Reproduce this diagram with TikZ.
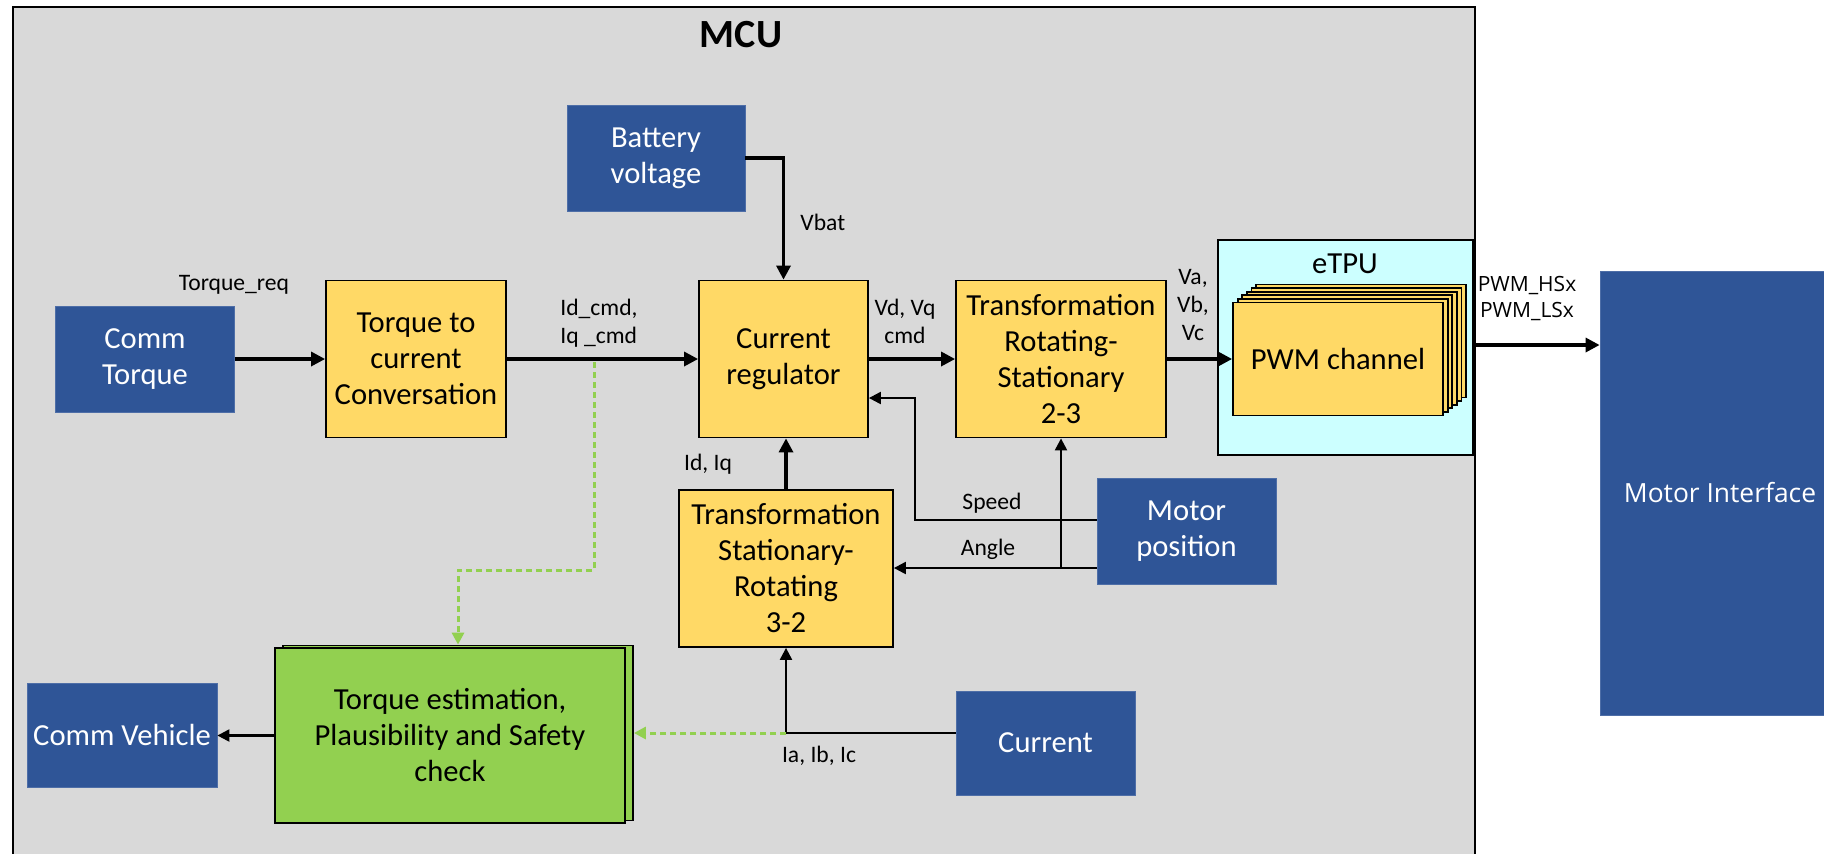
\documentclass[tikz,border=0pt]{standalone}
\usepackage{fontspec}
\setmainfont{Carlito}
\newfontfamily\osans{Open Sans}
\usetikzlibrary{arrows.meta,calc}
\definecolor{mblue}{HTML}{2F5597}
\definecolor{myellow}{HTML}{FFD966}
\definecolor{mgreen}{HTML}{92D050}
\definecolor{mgray}{HTML}{D9D9D9}
\definecolor{mcyan}{HTML}{CCFFFF}
\begin{document}
\begin{tikzpicture}[x=0.5pt,y=-0.5pt,
 bluebox/.style={rectangle, fill=mblue, draw=mblue!85!white, line width=0.4pt, text=white, font=\fontsize{15.3}{18}\selectfont, align=center, inner sep=0pt},
 yelbox/.style={rectangle, fill=myellow, draw=black, line width=0.9pt, font=\fontsize{15.3}{18}\selectfont, align=center, inner sep=0pt},
 lbl/.style={font=\fontsize{11.8}{14}\selectfont, inner sep=0pt, align=center},
 flow/.style={draw=black, line width=1.6pt, -{Triangle[length=7pt,width=7pt]}},
 thinflow/.style={draw=black, line width=1.1pt, -{Triangle[length=6pt,width=6pt]}},
 gdash/.style={draw=mgreen, line width=1.5pt, dash pattern=on 3pt off 2pt, -{Triangle[length=6pt,width=6pt]}},
]
\useasboundingbox (0,0) rectangle (1824,853);
\fill[white] (0,0) rectangle (1824,853);
% containers
\node[draw=black, fill=mgray, line width=1pt, minimum width=731pt, minimum height=440pt, anchor=north west, inner sep=0pt] (mcu) at (12,6) {};
\node[font=\fontsize{20}{24}\selectfont\bfseries, inner sep=0pt] (mcutitle) at (741,35) {MCU};
\node[draw=black, fill=mcyan, line width=0.8pt, minimum width=127.5pt, minimum height=107.5pt, inner sep=0pt] (etpu) at (1345.5,347.5) {};
\node[font=\fontsize{15.3}{18}\selectfont, inner sep=0pt] (etpul) at (1345,264) {eTPU};
% PWM stack
\foreach \i in {5,4,...,1}
  \node[yelbox, minimum width=105pt, minimum height=56.5pt] (pwm\i) at ({1338+4.6*\i},{359-3.6*\i}) {};
\node[yelbox, minimum width=105pt, minimum height=56.5pt] (pwm) at (1338,359) {PWM channel};
% blocks
\node[bluebox, minimum width=89pt, minimum height=53pt] (batt) at (656,158) {Battery\\voltage};
\node[bluebox, minimum width=89.5pt, minimum height=53pt] (commT) at (145,359) {Comm\\Torque};
\node[yelbox, minimum width=90pt, minimum height=78.5pt] (t2c) at (416,359) {Torque to\\current\\Conversation};
\node[yelbox, minimum width=84.5pt, minimum height=78.5pt] (creg) at (783.5,359) {Current\\regulator};
\node[yelbox, minimum width=105pt, minimum height=78.5pt] (tr23) at (1061,359) {Transformation\\Rotating-\\Stationary\\2-3};
\node[yelbox, minimum width=107pt, minimum height=78.5pt] (tr32) at (786,568.5) {Transformation\\Stationary-\\Rotating\\3-2};
\node[bluebox, minimum width=89.5pt, minimum height=53pt] (motpos) at (1186.5,531) {Motor\\position};
\node[bluebox, minimum width=89.5pt, minimum height=52pt] (current) at (1045.5,743) {Current};
\node[bluebox, minimum width=95pt, minimum height=52pt] (commV) at (122,735) {Comm Vehicle};
\node[rectangle, fill=mgreen, draw=black, line width=0.9pt, minimum width=175pt, minimum height=87.5pt] (greenb) at (458,733) {};
\node[rectangle, fill=mgreen, draw=black, line width=0.9pt, minimum width=175pt, minimum height=87.5pt, font=\fontsize{15.3}{18}\selectfont, align=center, inner sep=0pt] (green) at (450,735.5) {Torque estimation,\\Plausibility and Safety\\check};
\node[bluebox, minimum width=120pt, minimum height=222pt, font=\osans\fontsize{13.2}{16}\selectfont] (motorif) at (1720,493) {Motor Interface};
% labels
\node[lbl] (treq) at (234,285) {Torque\_req};
\node[lbl, anchor=west, align=left] (idcmd) at (560,323) {Id\_cmd,\\Iq \_cmd};
\node[lbl, anchor=west] (vbat) at (800,222) {Vbat};
\node[lbl] (vdvq) at (905,321) {Vd, Vq\\cmd};
\node[lbl] (vabc) at (1193,305) {Va,\\Vb,\\Vc};
\node[lbl, font=\osans\fontsize{10.5}{13}\selectfont] (pwmhs) at (1527,299) {PWM\_HSx\\PWM\_LSx};
\node[lbl] (speed) at (992,503) {Speed};
\node[lbl] (angle) at (988,549) {Angle};
\node[lbl] (idiq) at (708,464) {Id, Iq};
\node[lbl] (iabc) at (819,756) {Ia, Ib, Ic};
% connectors
\draw[flow] (commT.east) -- (t2c.west);
\draw[flow] (t2c.east) -- (creg.west);
\draw[flow] (creg.east) -- (tr23.west);
\draw[flow] (tr23.east) -- (pwm.west);
\coordinate (pwmout) at ([yshift=1.25pt]etpu.east);
\draw[flow] (pwmout) -- (pwmout -| motorif.west);
\draw[flow] (batt.east) -| (creg.north);
\draw[flow] (tr32.north) -- (tr32.north |- creg.south);
\coordinate (spdout) at ([yshift=5.5pt]motpos.west);
\coordinate (spdin) at ([yshift=-19.5pt]creg.east);
\draw[thinflow] (spdout) -| ($(spdin)+(46,0)$) -- (spdin);
\coordinate (angout) at ([yshift=-18.5pt]motpos.west);
\draw[thinflow] (angout) -- (angout -| tr32.east);
\draw[thinflow] (angout -| tr23.south) -- (tr23.south);
\coordinate (curout) at ([yshift=5pt]current.west);
\draw[thinflow] (curout) -| (tr32.south);
\draw[gdash] (curout -| tr32.south) -- (curout -| greenb.east);
\coordinate (tap) at (594,362);
\draw[gdash] (tap) -- ++(0,208) -| (greenb.north);
\draw[thinflow] (green.west) -- (green.west -| commV.east);
\end{tikzpicture}
\end{document}
